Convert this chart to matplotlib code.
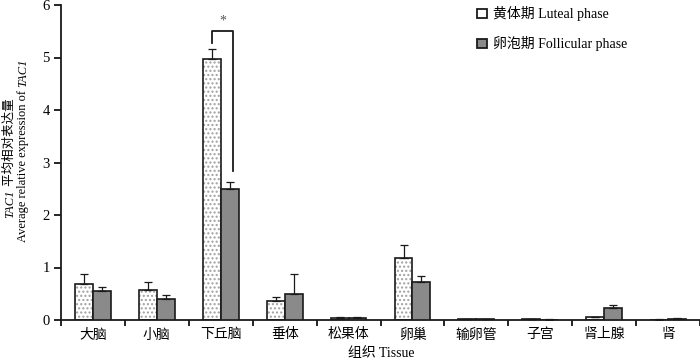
import numpy as np
import matplotlib
matplotlib.use("Agg")
import matplotlib.pyplot as plt
from matplotlib.patches import Patch

serif_cjk = ['Liberation Serif', 'Noto Sans CJK SC']
plt.rcParams['font.family'] = serif_cjk
plt.rcParams['axes.unicode_minus'] = False

# 数据
tissues = ['大脑', '小脑', '下丘脑', '垂体', '松果体', '卵巢', '输卵管', '子宫', '肾上腺', '肾']
luteal = [0.68, 0.58, 4.97, 0.37, 0.04, 1.19, 0.01, 0.01, 0.05, 0.005]
luteal_err = [0.19, 0.14, 0.20, 0.07, 0.02, 0.24, 0.01, 0.01, 0.01, 0.005]
follicular = [0.56, 0.40, 2.49, 0.49, 0.04, 0.72, 0.01, 0.005, 0.22, 0.01]
follicular_err = [0.06, 0.08, 0.13, 0.39, 0.02, 0.11, 0.01, 0.005, 0.07, 0.02]
yticks = [0, 1, 2, 3, 4, 5, 6]
sig_pair = 2  # 下丘脑
sig_label = '*'

fig = plt.figure(figsize=(7.0, 3.63), dpi=100)
ax = fig.add_axes([61 / 700, 1 - 320 / 363, 639 / 700, 315 / 363])

n = len(tissues)
centers = np.arange(n) + 0.5
w = 0.28
x_l = centers - w / 2
x_f = centers + w / 2

# 黄体期：白底灰点
ax.bar(x_l, luteal, width=w, color='white', edgecolor='#a0a0a0', hatch='....', linewidth=0, zorder=2)
ax.bar(x_l, luteal, width=w, fill=False, edgecolor='#1a1a1a', linewidth=1.2, zorder=3)
# 卵泡期：灰色
ax.bar(x_f, follicular, width=w, color='#8a8a8a', edgecolor='#1a1a1a', linewidth=1.2, zorder=3)

zeros = np.zeros(n)
ax.errorbar(x_l, luteal, yerr=[zeros, luteal_err], fmt='none', ecolor='#1a1a1a',
            elinewidth=0.9, capsize=3.2, capthick=0.9, zorder=4)
ax.errorbar(x_f, follicular, yerr=[zeros, follicular_err], fmt='none', ecolor='#1a1a1a',
            elinewidth=0.9, capsize=3.2, capthick=0.9, zorder=4)

# 显著性括号
i = sig_pair
y_top = luteal[i] + luteal_err[i] + 0.34
xl = x_l[i]
xr = x_f[i] + 0.05
ax.plot([xl, xl, xr, xr],
        [luteal[i] + luteal_err[i] + 0.1, y_top, y_top, follicular[i] + follicular_err[i] + 0.21],
        color='#1a1a1a', linewidth=1.3, zorder=4)
ax.text((xl + xr) / 2, y_top + 0.06, sig_label, ha='center', va='bottom', fontsize=10, color='#555555')

ax.set_xlim(0, n)
ax.set_ylim(0, 6)
ax.set_yticks(yticks)
ax.set_xticks(np.arange(n + 1))
ax.set_xticklabels([])
ax.set_xticks(centers, minor=True)
ax.set_xticklabels(tissues, minor=True, fontsize=10)
ax.tick_params(axis='x', which='minor', length=0, pad=6)
ax.tick_params(axis='x', which='major', length=4, width=1.2, direction='out')
ax.tick_params(axis='y', length=5, width=1.2, direction='out', labelsize=10.5, pad=3)

for s in ['top', 'right']:
    ax.spines[s].set_visible(False)
for s in ['left', 'bottom']:
    ax.spines[s].set_linewidth(1.3)
    ax.spines[s].set_color('#1a1a1a')

fig.text(381 / 700, 1 - 354 / 363, '组织 Tissue', ha='center', va='center', fontsize=10)

# 纵轴标题（两行，TAC1 斜体）
renderer = fig.canvas.get_renderer()


def vertical_rich_text(xc, yc, pieces, size):
    objs = []
    for s, style in pieces:
        t = fig.text(0, 0, s, rotation=90, rotation_mode='anchor', ha='left', va='center',
                     fontsize=size, style=style, family=serif_cjk)
        objs.append(t)
    heights = [t.get_window_extent(renderer).height for t in objs]
    total = sum(heights)
    y = yc + total / 2  # 从下往上排
    for t, h in zip(objs, heights):
        t.set_position((xc / 700, 1 - y / 363))
        y -= h


vertical_rich_text(10, 158, [('TAC1', 'italic'), (' 平均相对表达量', 'normal')], 9)
vertical_rich_text(23, 150, [('Average relative expression of ', 'normal'), ('TAC1', 'italic')], 9)

handles = [Patch(facecolor='white', edgecolor='#1a1a1a', linewidth=1.3),
           Patch(facecolor='#8a8a8a', edgecolor='#1a1a1a', linewidth=1.3)]
labels = ['黄体期 Luteal phase', '卵泡期 Follicular phase']
fig.legend(handles, labels, loc='upper left', bbox_to_anchor=(477 / 700, 1 - 6 / 363),
           frameon=False, fontsize=10, handlelength=0.75, handleheight=0.6,
           handletextpad=0.4, labelspacing=1.1, borderpad=0, borderaxespad=0)

plt.savefig('out.png', dpi=100)
